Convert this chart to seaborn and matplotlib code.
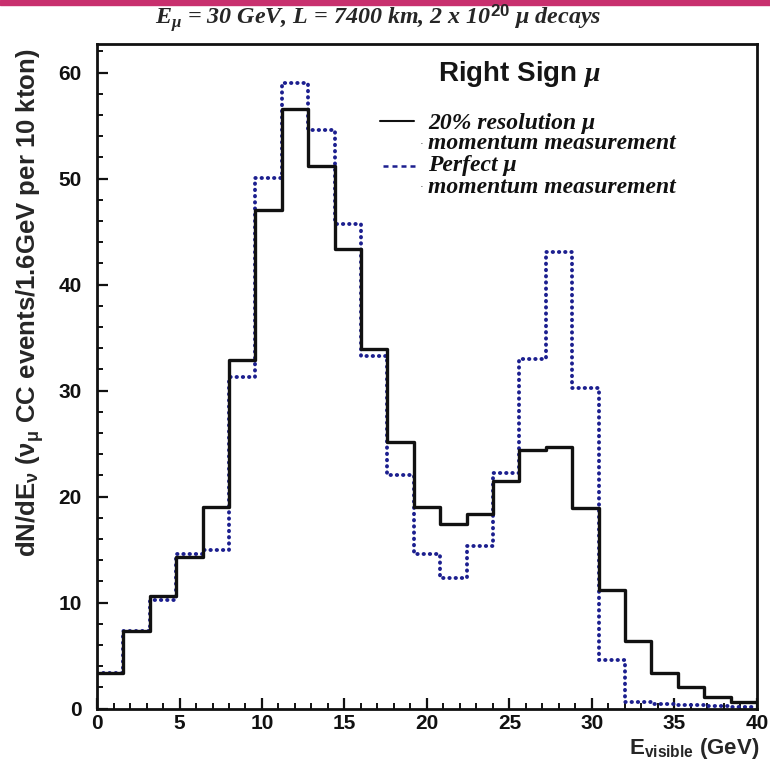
import numpy as np
import pandas as pd
import matplotlib
matplotlib.use("Agg")
import matplotlib.pyplot as plt
from matplotlib.lines import Line2D
from matplotlib.patches import Rectangle
import seaborn as sns

# ---- data ----
bin_edges = [round(0.0 + 1.6 * i, 2) for i in range(26)]
bin_centers = [round(0.8 + 1.6 * i, 2) for i in range(25)]
resolution_20 = [3.4, 7.3, 10.6, 14.3, 19.0, 32.9, 47.0, 56.6, 51.2, 43.4,
                 33.9, 25.1, 19.0, 17.4, 18.4, 21.5, 24.4, 24.7, 18.9, 11.2,
                 6.4, 3.4, 2.0, 1.1, 0.65]
perfect = [3.4, 7.3, 10.2, 14.6, 15.0, 31.3, 50.1, 59.0, 54.6, 45.7,
           33.3, 22.0, 14.6, 12.3, 15.3, 22.2, 33.0, 43.1, 30.2, 4.6,
           0.6, 0.4, 0.3, 0.2, 0.1]
x_ticks = [0, 5, 10, 15, 20, 25, 30, 35, 40]
y_ticks = [0, 10, 20, 30, 40, 50, 60]

df = pd.DataFrame({
    "E": bin_centers * 2,
    "w": resolution_20 + perfect,
    "series": ["res"] * 25 + ["perfect"] * 25,
})

sns.set_theme(style="ticks")
plt.rcParams["mathtext.fontset"] = "custom"
plt.rcParams["mathtext.rm"] = "Liberation Sans:bold"
plt.rcParams["mathtext.bf"] = "Liberation Sans:bold"
plt.rcParams["mathtext.it"] = "Liberation Serif:italic:bold"
plt.rcParams["font.family"] = ["Liberation Sans", "DejaVu Sans"]

fig = plt.figure(figsize=(7.7, 7.71), dpi=100)
ax = fig.add_axes([0.126, 0.081, 0.857, 0.862])

blue = "#1c1f8f"
sns.histplot(data=df[df.series == "perfect"], x="E", weights="w", bins=bin_edges,
             element="step", fill=False, color=blue, linewidth=2.8,
             linestyle=(0, (0.1, 1.5)), ax=ax)
for ln in ax.lines:
    ln.set_dash_capstyle("round")
sns.histplot(data=df[df.series == "res"], x="E", weights="w", bins=bin_edges,
             element="step", fill=False, color="#111111", linewidth=2.4, ax=ax)

ax.set_xlim(0, 40)
ax.set_ylim(0, 62.7)
ax.set_xticks(x_ticks)
ax.set_yticks(y_ticks)
ax.set_xticks(np.arange(0, 41, 1), minor=True)
ax.set_yticks(np.arange(0, 63, 2), minor=True)
ax.tick_params(axis="both", which="major", direction="in", length=8, width=1.6,
               labelsize=15, colors="#111111")
ax.tick_params(axis="both", which="minor", direction="in", length=4.5, width=1.4,
               colors="#111111")
ax.tick_params(axis="y", which="major", pad=11)
ax.tick_params(axis="x", which="major", pad=4)
for lab in ax.get_xticklabels() + ax.get_yticklabels():
    lab.set_fontweight("bold")
for sp in ax.spines.values():
    sp.set_visible(True)
    sp.set_linewidth(2.0)
    sp.set_color("#111111")

ax.set_xlabel(r"E$_{\mathrm{visible}}$ (GeV)", fontsize=16, fontweight="bold",
              va="center")
ax.xaxis.set_label_coords(0.905, -0.06)
ax.set_ylabel(r"dN/dE$_{\mathrm{\nu}}$ ($\mathrm{\nu_{\mu}}$ CC events/1.6GeV per 10 kton)",
              fontsize=18.5, fontweight="bold")
ax.yaxis.set_label_coords(-0.077, 0.61)

fig.text(0.491, 0.977, r"E$_{\mu}$ = 30 GeV, L = 7400 km, 2 x 10$^{\mathit{20}}$ $\mu$ decays",
         ha="center", va="center", fontsize=17.3, style="italic", fontweight="bold",
         family=["Liberation Serif", "DejaVu Serif"])

ax.text(0.517, 0.955, r"Right Sign $\mu$", transform=ax.transAxes, fontsize=20,
        ha="left", va="center", fontweight="bold", color="#151515",
        family=["Liberation Sans", "DejaVu Sans"])

# legend
ax.add_line(Line2D([0.429, 0.480], [0.884, 0.884], transform=ax.transAxes,
                   color="#111111", lw=1.5))
ax.add_line(Line2D([0.433, 0.486], [0.817, 0.817], transform=ax.transAxes,
                   color=blue, lw=1.8, linestyle=(0, (2, 1.6))))
legend_font = dict(fontsize=17, style="italic", fontweight="bold",
                   family=["Liberation Serif", "DejaVu Serif"], ha="left",
                   va="center", transform=ax.transAxes, color="#111111")
ax.text(0.5015, 0.881, "20% resolution μ", **legend_font)
ax.text(0.5015, 0.850, "momentum measurement", **legend_font)
ax.text(0.5015, 0.817, "Perfect μ", **legend_font)
ax.text(0.5015, 0.784, "momentum measurement", **legend_font)
ax.text(0.492, 0.850, "·", transform=ax.transAxes, fontsize=8, ha="center", va="center")
ax.text(0.492, 0.784, "·", transform=ax.transAxes, fontsize=8, ha="center", va="center")

fig.patches.append(Rectangle((0, 0.993), 1, 0.007, transform=fig.transFigure,
                             color="#c8306e", zorder=0))

fig.savefig("out.png", dpi=100)
